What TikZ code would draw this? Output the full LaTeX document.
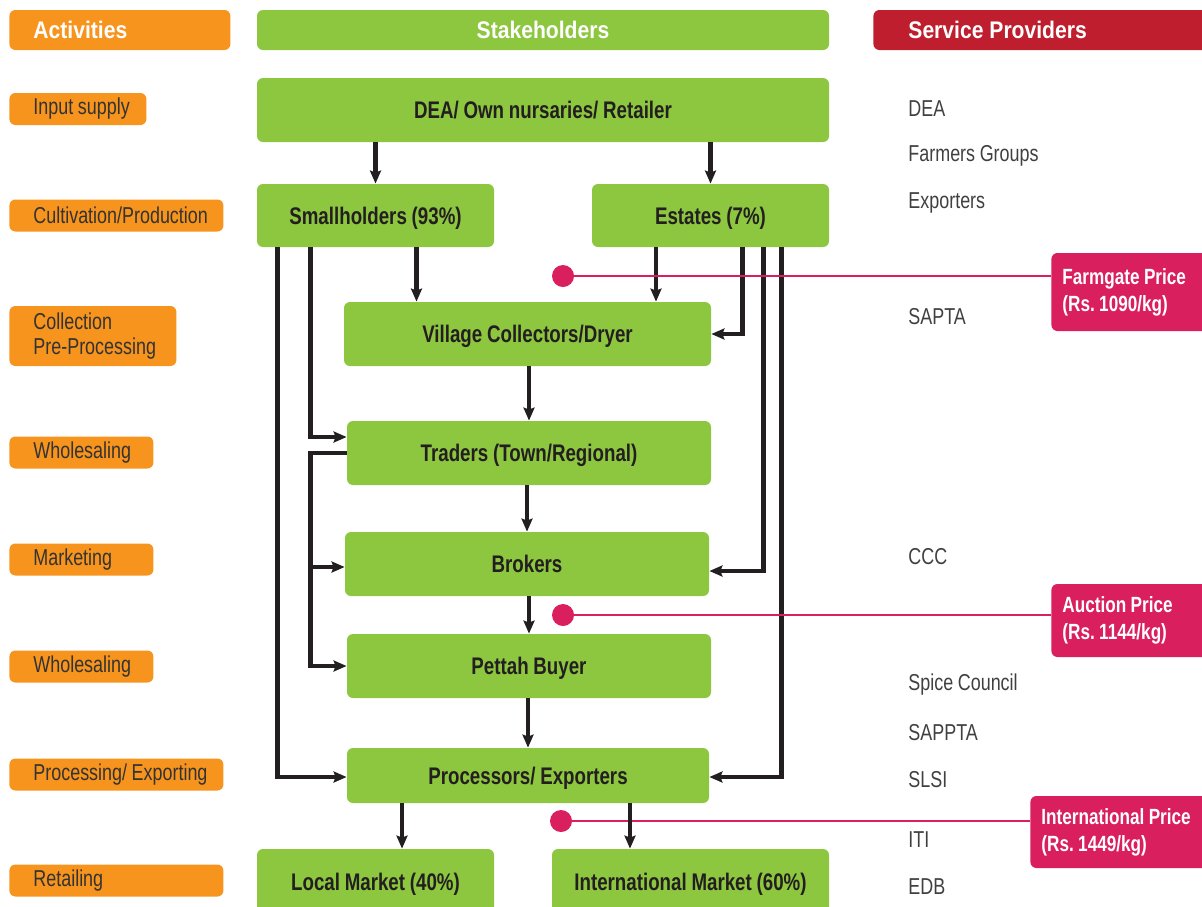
\documentclass[tikz,border=0pt]{standalone}
\usepackage{fontspec}
\setmainfont{Liberation Sans}[FakeStretch=0.78,WordSpace=0.92]
\newfontfamily\headfont{Liberation Sans}[FakeStretch=0.88]
\usetikzlibrary{calc,arrows.meta}
\definecolor{actorange}{RGB}{247,148,29}
\definecolor{stakegreen}{RGB}{141,198,63}
\definecolor{provred}{RGB}{190,30,45}
\definecolor{pricepink}{RGB}{218,31,94}
\definecolor{ink}{RGB}{35,31,32}
\frenchspacing

\begin{document}
\begin{tikzpicture}[x=0.5pt,y=-0.5pt,font=\fontsize{12}{14}\selectfont]
\tikzset{
% boxes of the three columns
head/.style={rounded corners=3pt,inner sep=0pt,minimum height=20pt,text=white,font=\headfont\fontsize{12}{14}\selectfont\bfseries},
act/.style={fill=actorange,rounded corners=3pt,inner sep=0pt,anchor=west,align=flush left,minimum height=16pt,text=black!80,font=\fontsize{11.5}{12.5}\selectfont},
stake/.style={fill=stakegreen,rounded corners=3pt,inner sep=0pt,minimum height=32pt,text height=8.6pt,text depth=0pt,text=ink,font=\fontsize{12}{14}\selectfont\bfseries},
prov/.style={anchor=west,inner sep=0pt,text=black!75,font=\fontsize{11.5}{13}\selectfont},
price/.style={fill=pricepink,rounded corners=3pt,inner sep=0pt,anchor=west,align=flush left,text=white,font=\fontsize{11}{13.5}\selectfont\bfseries},
dot/.style={circle,fill=pricepink,inner sep=0pt,minimum size=11pt},
% connectors
arr/.style={ink,line width=2.2pt,-{Stealth[length=6.5pt,width=5.5pt,inset=1pt]}},
pline/.style={pricepink,line width=1pt}
}
\useasboundingbox (0,0) rectangle (1202,906);
\clip (0,0) rectangle (1202,906);

% headers
\node[head,fill=actorange,anchor=west,text width=110.5pt,align=flush left] (h1) at (9,30) {\hspace*{12pt}Activities};
\node[head,fill=stakegreen,minimum width=286pt] (h2) at (543,30) {Stakeholders};
\node[head,fill=provred,anchor=west,text width=171pt,align=flush left] (h3) at (873,30) {\hspace*{17.5pt}Service Providers};

% activities
\node[act,text width=68.5pt] (a1) at (9,109) {\hspace*{12pt}Input supply};
\node[act,text width=107pt] (a2) at (9,215.5) {\hspace*{12pt}Cultivation/Production};
\node[act,text width=83.5pt,minimum height=30pt] (a3) at (9,336) {\hspace*{12pt}Collection\\\hspace*{12pt}Pre-Processing};
\node[act,text width=72pt] (a4) at (9,452.5) {\hspace*{12pt}Wholesaling};
\node[act,text width=72pt] (a5) at (9,559.5) {\hspace*{12pt}Marketing};
\node[act,text width=72pt] (a6) at (9,666.5) {\hspace*{12pt}Wholesaling};
\node[act,text width=107pt] (a7) at (9,774.5) {\hspace*{12pt}Processing/ Exporting};
\node[act,text width=107pt] (a8) at (9,880.5) {\hspace*{12pt}Retailing};

% stakeholders
\node[stake,minimum width=286pt] (dea) at (543,110) {DEA/ Own nursaries/ Retailer};
\node[stake,minimum width=118.5pt,minimum height=31.5pt] (sh) at (375.5,215.5) {Smallholders (93\%)};
\node[stake,minimum width=118.5pt,minimum height=31.5pt] (es) at (710.5,215.5) {Estates (7\%)};
\node[stake,minimum width=183.5pt] (vc) at (527.5,334) {Village Collectors/Dryer};
\node[stake,minimum width=182pt] (tr) at (529,453) {Traders (Town/Regional)};
\node[stake,minimum width=182pt] (br) at (527,564) {Brokers};
\node[stake,minimum width=182pt] (pb) at (529,666) {Pettah Buyer};
\node[stake,minimum width=181pt,minimum height=27.5pt] (pe) at (528,775.5) {Processors/ Exporters};
\node[stake,minimum width=118.5pt,minimum height=33pt] (lm) at (375.5,882) {Local Market (40\%)};
\node[stake,minimum width=138.5pt,minimum height=33pt] (im) at (690.5,882) {International Market (60\%)};

% service providers
\node[prov] (p1) at (908,109) {DEA};
\node[prov] (p2) at (908,156) {Farmers Groups};
\node[prov] (p3) at (908,203) {Exporters};
\node[prov] (p4) at (908,317) {SAPTA};
\node[prov] (p5) at (908,557) {CCC};
\node[prov] (p6) at (908,685) {Spice Council};
\node[prov] (p7) at (908,733) {SAPPTA};
\node[prov] (p8) at (908,780) {SLSI};
\node[prov] (p9) at (908,840) {ITI};
\node[prov] (p10) at (908,887) {EDB};

% prices
\node[price,text width=80pt,minimum height=39pt] (fp) at (1051,292) {\hspace*{5.5pt}Farmgate Price\\\hspace*{5.5pt}(Rs. 1090/kg)};
\node[price,text width=80pt,minimum height=36.5pt] (ap) at (1051,620.5) {\hspace*{5.5pt}Auction Price\\\hspace*{5.5pt}(Rs. 1144/kg)};
\node[price,text width=92.5pt,minimum height=36pt] (ip) at (1030,832) {\hspace*{5.5pt}International Price\\\hspace*{5.5pt}(Rs. 1449/kg)};
\node[dot] (d1) at (563,276) {};
\node[dot] (d2) at (563,615) {};
\node[dot] (d3) at (561,821) {};
\draw[pline] (d3) -- (d3 -| ip.west);

% flows
\draw[arr] (dea.south -| sh.north) -- (sh.north);
\draw[arr] (dea.south -| es.north) -- (es.north);
\draw[arr] ($(sh.south)+(41,0)$) coordinate (s1) -- (s1 |- vc.north);
\draw[arr] ($(es.south)+(-54.5,0)$) coordinate (e1) -- (e1 |- vc.north);
\draw[arr] ($(sh.south west)+(54,0)$) |- ($(tr.west)+(0,-16)$);
\draw[arr] ($(sh.south west)+(21,0)$) |- ($(pe.west)+(0,1.5)$);
\draw[arr] (tr.west) -- ++(-36,0) coordinate (t1) |- (pb.west);
\draw[arr] (t1) |- ($(br.west)+(0,3)$);
\draw[arr] ($(es.south east)+(-87,0)$) |- (vc.east);
\draw[arr] ($(es.south east)+(-66,0)$) |- ($(br.east)+(0,7)$);
\draw[arr] ($(es.south east)+(-48,0)$) |- ($(pe.east)+(0,1.5)$);
\draw[arr] (tr.north |- vc.south) -- (tr.north);
\draw[arr] (br.north |- tr.south) -- (br.north);
\draw[arr] (pb.north |- br.south) -- (pb.north);
\draw[arr] (pe.north |- pb.south) -- (pe.north);
\draw[arr] ($(lm.north)+(26.5,0)$) coordinate (m1) (m1 |- pe.south) -- (m1);
\draw[arr] ($(im.north)+(-60.5,0)$) coordinate (m2) (m2 |- pe.south) -- (m2);

% price lines over the flows
\draw[pline] (d1) -- (d1 -| fp.west);
\draw[pline] (d2) -- (d2 -| ap.west);
\end{tikzpicture}
\end{document}
